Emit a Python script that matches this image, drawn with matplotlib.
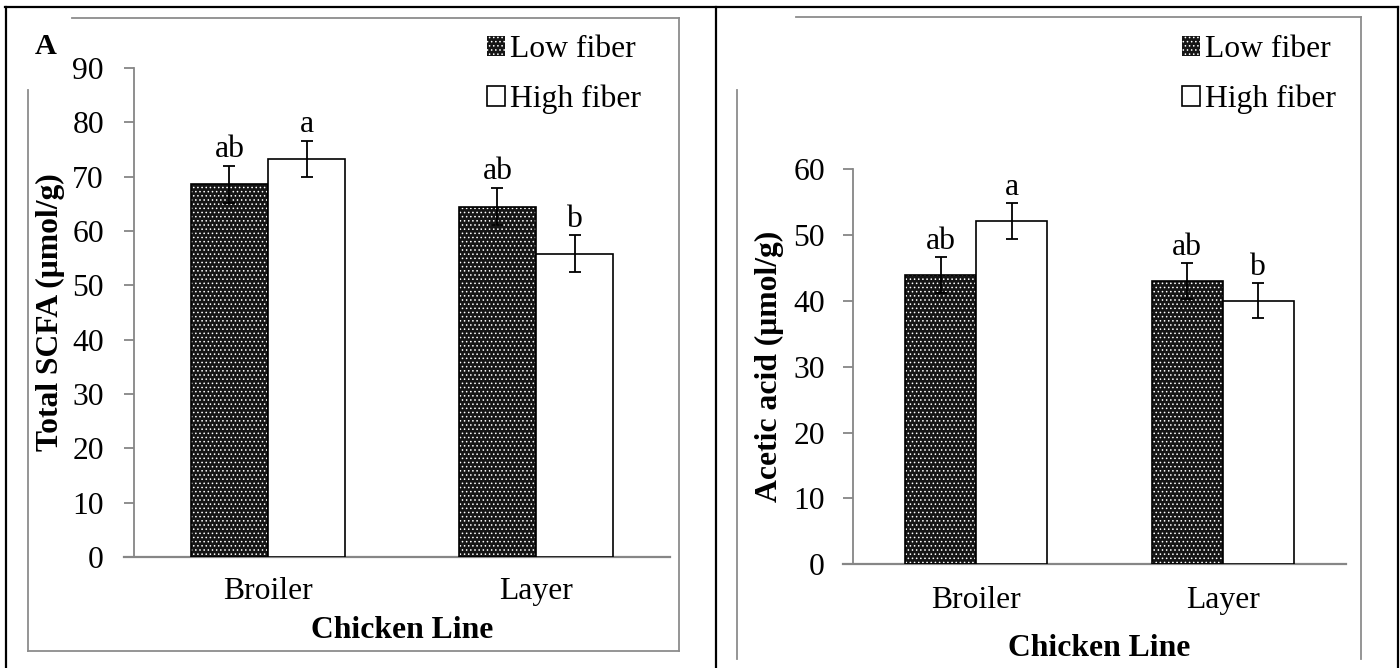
import matplotlib
matplotlib.use("Agg")
import matplotlib.pyplot as plt
from matplotlib.lines import Line2D
import matplotlib.patches as mpatches
import numpy as np

# ---- data ----
categories = ["Broiler", "Layer"]
series_names = ["Low fiber", "High fiber"]

scfa_low = [68.6, 64.5]
scfa_high = [73.3, 55.8]
scfa_low_err = [3.4, 3.4]
scfa_high_err = [3.35, 3.4]
scfa_low_sig = ["ab", "ab"]
scfa_high_sig = ["a", "b"]
scfa_yticks = [0, 10, 20, 30, 40, 50, 60, 70, 80, 90]

acetic_low = [43.9, 43.0]
acetic_high = [52.1, 40.0]
acetic_low_err = [2.7, 2.7]
acetic_high_err = [2.7, 2.65]
acetic_low_sig = ["ab", "ab"]
acetic_high_sig = ["a", "b"]
acetic_yticks = [0, 10, 20, 30, 40, 50, 60]

# ---- style ----
W, H = 1400, 668
FONT = "Liberation Serif"
FS = 22.8
GREY = "#868686"
DARK = "#151515"
plt.rcParams["font.family"] = [FONT, "DejaVu Serif"]
plt.rcParams["hatch.linewidth"] = 0.6

fig = plt.figure(figsize=(W / 100, H / 100), dpi=100)


def fx(px):
    return px / W


def fy(py):
    return 1 - py / H


def frame_line(x0, y0, x1, y1, color, lw):
    fig.add_artist(Line2D([fx(x0), fx(x1)], [fy(y0), fy(y1)], transform=fig.transFigure,
                          color=color, lw=lw, solid_capstyle="projecting"))


# outer black table lines
frame_line(5, 7, 1398, 7, "black", 1.6)
frame_line(5.7, 7, 5.7, 668, "black", 1.6)
frame_line(716, 7, 716, 668, "black", 1.6)
frame_line(1397.5, 7, 1397.5, 668, "black", 1.6)

# grey chart-area frames (partially hidden as in the source)
frame_line(72, 18, 679, 18, "#8c8c8c", 1.3)
frame_line(679, 18, 679, 651, "#8c8c8c", 1.3)
frame_line(28, 651, 679, 651, "#8c8c8c", 1.3)
frame_line(28, 90, 28, 651, "#8c8c8c", 1.3)
frame_line(796, 17, 1361, 17, "#8c8c8c", 1.3)
frame_line(737, 90, 737, 659, "#8c8c8c", 1.3)
frame_line(1361, 17, 1361, 659, "#8c8c8c", 1.3)


def make_panel(rect, low, high, low_err, high_err, low_sig, high_sig, yticks, ylabel,
               ylabel_x, xlabel_y, xtick_pad, ytick_pad, legend_anchor):
    x0, ytop, x1, ybot = rect
    ax = fig.add_axes([fx(x0), fy(ybot), fx(x1) - fx(x0), fy(ytop) - fy(ybot)])
    x = np.arange(len(categories))
    w = 0.2875
    # low fiber: dark with white dots
    ax.bar(x - w / 2, low, w, color=DARK, edgecolor="white", linewidth=0, hatch="....", zorder=2)
    ax.bar(x - w / 2, low, w, fill=False, edgecolor="black", linewidth=1.2, zorder=3)
    ax.bar(x + w / 2, high, w, color="white", edgecolor="black", linewidth=1.2, zorder=3)
    ax.errorbar(x - w / 2, low, yerr=low_err, fmt="none", ecolor="black", elinewidth=1.3,
                capsize=4.3, capthick=1.3, zorder=4)
    ax.errorbar(x + w / 2, high, yerr=high_err, fmt="none", ecolor="black", elinewidth=1.3,
                capsize=4.3, capthick=1.3, zorder=4)
    for i in range(len(categories)):
        ax.annotate(low_sig[i], (x[i] - w / 2, low[i] + low_err[i]), xytext=(0, 6.2),
                    textcoords="offset points", ha="center", va="baseline", fontsize=FS)
        ax.annotate(high_sig[i], (x[i] + w / 2, high[i] + high_err[i]), xytext=(0, 6.2),
                    textcoords="offset points", ha="center", va="baseline", fontsize=FS)
    ax.set_xlim(-0.5, len(categories) - 0.5)
    ax.set_ylim(yticks[0], yticks[-1])
    ax.set_yticks(yticks)
    ax.set_xticks(x)
    ax.set_xticklabels(categories)
    for s in ["top", "right", "bottom"]:
        ax.spines[s].set_visible(False)
    ax.spines["left"].set_color(GREY)
    ax.spines["left"].set_linewidth(1.3)
    ax.axhline(0, xmin=-10 / (x1 - x0), xmax=1, color=GREY, lw=1.6, clip_on=False, zorder=1)
    ax.tick_params(axis="y", direction="out", length=7.2, width=1.3, color=GREY,
                   labelsize=FS, pad=ytick_pad)
    ax.tick_params(axis="x", length=0, labelsize=FS, pad=xtick_pad)
    ax.set_ylabel(ylabel, fontsize=FS, fontweight="bold", va="center")
    ax.yaxis.set_label_coords((ylabel_x - x0) / (x1 - x0), 0.5)
    ax.set_xlabel("Chicken Line", fontsize=FS, fontweight="bold", va="center")
    ax.xaxis.set_label_coords(0.5, (ybot - xlabel_y) / (ybot - ytop))
    ax.set_facecolor("none")
    handles = [mpatches.Patch(facecolor=DARK, edgecolor="white", linewidth=0, hatch="...."),
               mpatches.Patch(facecolor="white", edgecolor="black", linewidth=1.2)]
    fig.legend(handles, series_names, loc="upper left",
               bbox_to_anchor=(fx(legend_anchor[0]), fy(legend_anchor[1])),
               bbox_transform=fig.transFigure, frameon=False, fontsize=FS,
               handlelength=0.58, handleheight=0.58, handletextpad=0.15,
               labelspacing=0.66, borderpad=0, borderaxespad=0)
    return ax


make_panel((134, 68, 670, 557), scfa_low, scfa_high, scfa_low_err, scfa_high_err,
           scfa_low_sig, scfa_high_sig, scfa_yticks, "Total SCFA (μmol/g)",
           50, 630, 14.4, 14.4, (487, 35))
make_panel((853, 169, 1346, 564.3), acetic_low, acetic_high, acetic_low_err, acetic_high_err,
           acetic_low_sig, acetic_high_sig, acetic_yticks, "Acetic acid (μmol/g)",
           769, 648, 15.5, 13.0, (1182, 35))

fig.text(fx(46), fy(47), "A", fontsize=FS - 1, fontweight="bold", ha="center", va="center")

fig.savefig("out.png", dpi=100, facecolor="white")
